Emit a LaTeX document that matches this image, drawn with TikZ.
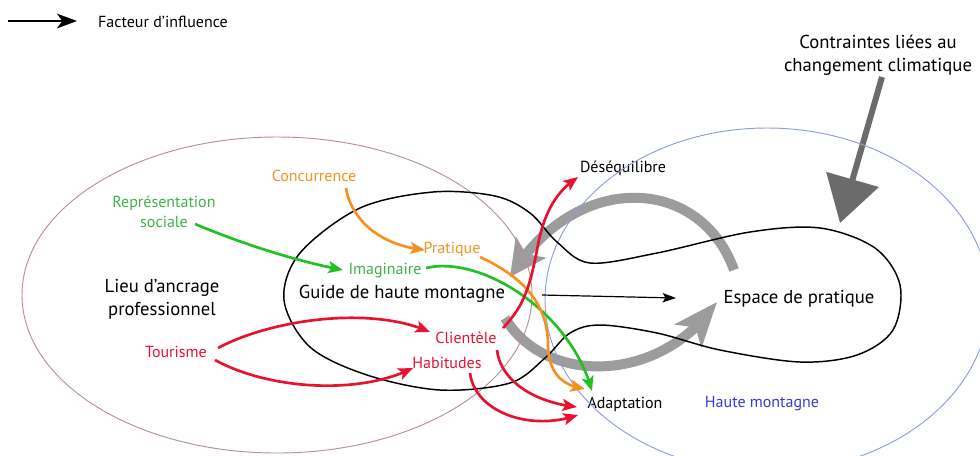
\documentclass[tikz,border=0pt]{standalone}
\usepackage{fontspec}
\setmainfont{PT Sans}
\usetikzlibrary{arrows.meta,bending,calc}
\definecolor{cgreen}{HTML}{22C022}
\definecolor{tgreen}{HTML}{3DB34A}
\definecolor{corange}{HTML}{F4921F}
\definecolor{cred}{HTML}{E8122E}
\definecolor{cblue}{HTML}{3A3AD0}
\definecolor{cgray}{HTML}{9C9C9C}
\definecolor{dgray}{HTML}{6B6B6B}
\definecolor{rose}{HTML}{B8908F}
\definecolor{lblue}{HTML}{8E9ED6}
\tikzset{
  small/.style={font=\fontsize{12pt}{15pt}\selectfont, inner sep=1pt},
  big/.style={font=\fontsize{14pt}{17.25pt}\selectfont, inner sep=1pt},
  colarrow/.style={line width=2pt, -{Stealth[length=11pt,width=9pt,inset=2.5pt,flex]}},
  grayband/.style={cgray, line width=7.5pt},
}
\begin{document}
\begin{tikzpicture}[x=0.75pt,y=-0.75pt]
\useasboundingbox (0,0) rectangle (980,455);

% text nodes
\node[small, anchor=base] (fact) at (163,27) {Facteur d’influence};
\node[big, align=center] (cont) at (878,55) {Contraintes liées au\\changement climatique};
\node[small, anchor=base] (deseq) at (623,172) {Déséquilibre};
\node[small, align=center, text=tgreen] (rep) at (164,212) {Représentation\\sociale};
\node[small, anchor=base, text=corange] (conc) at (314,181) {Concurrence};
\node[small, anchor=base, text=corange] (prat) at (452,253) {Pratique};
\node[small, anchor=base, text=tgreen] (imag) at (385,274) {Imaginaire};
\node[big, anchor=base] (guide) at (402,298) {Guide de haute montagne};
\node[big, align=center] (lieu) at (162,299) {Lieu d’ancrage\\professionnel};
\node[small, anchor=base, text=cred] (tour) at (176,357) {Tourisme};
\node[small, anchor=base, text=cred] (cli) at (466,343) {Clientèle};
\node[small, anchor=base, text=cred] (hab) at (447,368) {Habitudes};
\node[small, anchor=base] (adapt) at (625,408) {Adaptation};
\node[small, anchor=base, text=cblue] (hm) at (762,407) {Haute montagne};
\node[big, anchor=base] (esp) at (799,303) {Espace de pratique};

\coordinate (lg0) at (8,21);
\coordinate (climtip) at (840,223);

% gray arrows
\draw[grayband, -{Stealth[length=27pt,width=27pt,inset=6pt,flex]}]
  ($(esp.base)+(-65,-33)$) .. controls (700,175) and (575,170) .. ($(guide.base)+(108,-21)$);
\draw[grayband, -{Stealth[length=33pt,width=26pt,inset=8pt,flex]}]
  ($(guide.base)+(103,20)$) .. controls (545,385) and (660,385) .. ($(esp.base)+(-82,-1)$);
\draw[dgray, line width=4.5pt, -{Triangle[length=34pt,width=40pt]}]
  ($(cont.center)+(4,22)$) -- (climtip);

% ellipses
\draw[rose, line width=0.7pt] (277,295) ellipse [x radius=255, y radius=158];
\draw[lblue, line width=0.7pt] (767,300) ellipse [x radius=222, y radius=172];

% lobe shape
\draw[line width=1.1pt] plot[smooth cycle, tension=0.55] coordinates {
 (433,192) (495,196) (530,213) (557,242) (590,263) (657,253) (750,232) (820,228)
 (875,248) (900,285) (893,330) (857,355) (800,362) (720,350) (657,333) (600,325)
 (570,333) (545,358) (510,383) (440,390) (367,375) (310,347) (284,300) (300,253) (360,208)};

% coloured arrows
\draw[colarrow, cgreen] ($(rep.center)+(31,12)$) .. controls (245,245) and (300,262) .. ($(imag.base)+(-42,-4)$);
\draw[colarrow, cgreen] ($(imag.base)+(41,-6)$) .. controls (480,255) and (570,310) .. ($(adapt.base)+(-33,-17)$);
\draw[colarrow, corange] ($(conc.base)+(32,7)$) .. controls (350,215) and (375,245) .. ($(prat.base)+(-27,-3)$);
\draw[colarrow, corange] ($(prat.base)+(28,4)$) .. controls (530,280) and (548,310) .. (548,345)
  .. controls (548,372) and (562,386) .. ($(adapt.base)+(-40,-19)$);
\draw[colarrow, cred] ($(cli.base)+(37,-15)$) .. controls (525,305) and (530,285) .. (537,250)
  .. controls (543,215) and (555,192) .. ($(deseq.base)+(-45,5)$);
\draw[colarrow, cred] ($(tour.base)+(42,-9)$) .. controls (270,320) and (370,305) .. ($(cli.base)+(-36,-11)$);
\draw[colarrow, cred] ($(tour.base)+(39,3)$) .. controls (270,390) and (360,395) .. ($(hab.base)+(-34,0)$);
\draw[colarrow, cred] ($(cli.base)+(31,7)$) .. controls (500,378) and (530,402) .. ($(adapt.base)+(-48,-1)$);
\draw[colarrow, cred] ($(hab.base)+(23,5)$) .. controls (475,412) and (530,432) .. ($(adapt.base)+(-47,7)$);

% black arrows
\draw[line width=0.9pt, -{Stealth[length=10pt,width=7pt,inset=2pt]}] ($(guide.base)+(140,-3)$) -- ($(esp.base)+(-123,-5)$);
\draw[line width=1.6pt, -{Stealth[length=15pt,width=11pt,inset=4pt]}] (lg0) -- ($(fact.base)+(-86,-6)$);
\end{tikzpicture}
\end{document}
